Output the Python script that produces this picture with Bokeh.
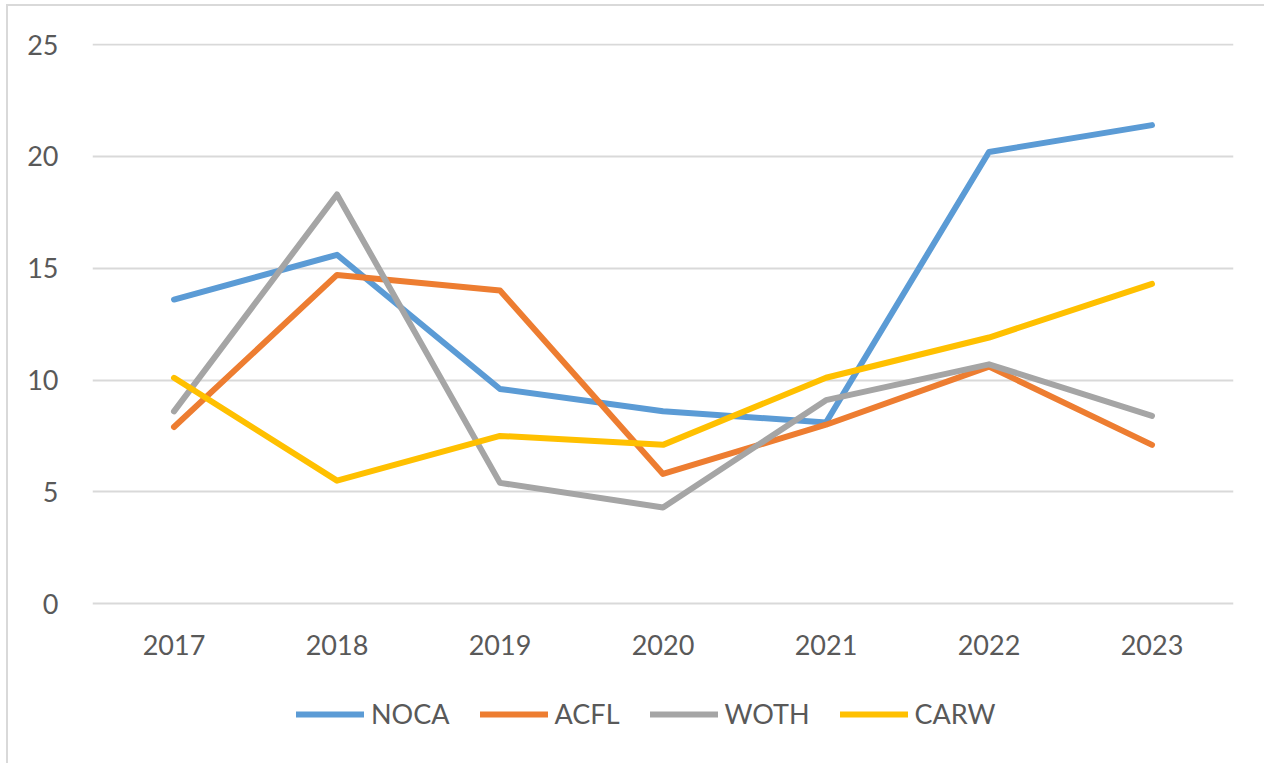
from bokeh.plotting import figure
from bokeh.models import Legend, LegendItem, FactorRange, FixedTicker, Range1d
from bokeh.embed import file_html
from bokeh.resources import INLINE

years = ["2017", "2018", "2019", "2020", "2021", "2022", "2023"]
NOCA = [13.6, 15.6, 9.6, 8.6, 8.1, 20.2, 21.4]
ACFL = [7.9, 14.7, 14.0, 5.8, 8.0, 10.6, 7.1]
WOTH = [8.6, 18.3, 5.4, 4.3, 9.1, 10.7, 8.4]
CARW = [10.1, 5.5, 7.5, 7.1, 10.1, 11.9, 14.3]
y_ticks = [0, 5, 10, 15, 20, 25]

series = [("NOCA", NOCA, "#5B9BD5"), ("ACFL", ACFL, "#ED7D31"),
          ("WOTH", WOTH, "#A5A5A5"), ("CARW", CARW, "#FFC000")]

FONT = "Lato"
TXT = "#595959"

# frame extends to the bottom of the chart so the legend can sit inside it
p = figure(x_range=FactorRange(*years), y_range=Range1d(-7.15, 25.05),
           width=1256, height=757, frame_width=1141, frame_height=720,
           output_backend="svg", toolbar_location=None,
           min_border_left=84, min_border_right=31, min_border_top=37, min_border_bottom=0)
p.outline_line_color = None
p.background_fill_color = "white"
p.border_fill_color = "white"
p.styles = {"border-left": "2px solid #d9d9d9", "border-top": "2px solid #d9d9d9",
            "margin-left": "6px", "margin-top": "4px"}

p.xgrid.grid_line_color = None
p.ygrid.grid_line_color = "#D9D9D9"
p.ygrid.grid_line_width = 2
p.yaxis.ticker = FixedTicker(ticks=y_ticks)
p.xaxis.fixed_location = 0

for ax in (p.xaxis, p.yaxis):
    ax.axis_line_color = None
    ax.major_tick_line_color = None
    ax.minor_tick_line_color = None
    ax.major_label_text_font = FONT
    ax.major_label_text_font_size = "27px"
    ax.major_label_text_color = TXT
p.yaxis.major_label_standoff = 28
p.xaxis.major_label_standoff = 25

items = []
for name, vals, col in series:
    r = p.line(x=years, y=vals, line_color=col, line_width=6,
               line_cap="round", line_join="round")
    items.append(LegendItem(label=name, renderers=[r]))

legend = Legend(items=items, orientation="horizontal", location=(204, 33),
                label_text_font=FONT, label_text_font_size="27px", label_text_color=TXT,
                glyph_width=68, glyph_height=30, label_height=30, label_standoff=7, spacing=30,
                border_line_color=None, background_fill_alpha=0,
                padding=0, margin=0)
p.add_layout(legend, "center")

open("out.html", "w").write(file_html(p, INLINE))
